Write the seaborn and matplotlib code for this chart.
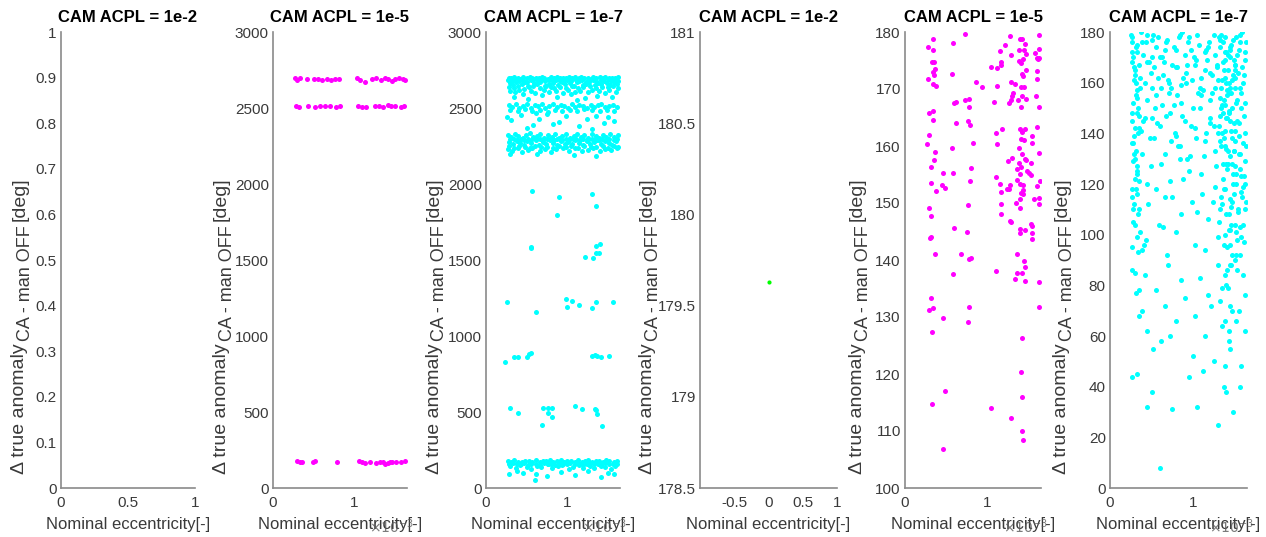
import matplotlib
matplotlib.use("Agg")
import matplotlib.pyplot as plt
import seaborn as sns

# ---------------- DATA ----------------
titles = ["CAM ACPL = 1e-2", "CAM ACPL = 1e-5", "CAM ACPL = 1e-7",
          "CAM ACPL = 1e-2", "CAM ACPL = 1e-5", "CAM ACPL = 1e-7"]
xlabel = "Nominal eccentricity[-]"
ylabel_main = "\u0394 true anomaly"
ylabel_sub = "CA - man OFF"
ylabel_unit = "[deg]"

# Panel 2 (1e-5, full range) -- x in units of 1e-3
p2_x = [0.27, 0.30, 0.33, 0.42, 0.50, 0.55, 0.60, 0.66, 0.71, 0.76, 0.81, 1.03, 1.07, 1.13, 1.22, 1.27, 1.33, 1.38, 1.42, 1.46, 1.50, 1.55, 1.60, 1.63,
        0.28, 0.32, 0.43, 0.52, 0.58, 0.64, 0.70, 0.78, 0.82, 1.05, 1.10, 1.15, 1.25, 1.30, 1.36, 1.41, 1.45, 1.50, 1.57, 1.61,
        0.29, 0.33, 0.36, 0.49, 0.52, 0.79, 1.06, 1.10, 1.13, 1.20, 1.27, 1.32, 1.36, 1.38, 1.41, 1.44, 1.47, 1.52, 1.57, 1.62]
p2_y = [2695, 2685, 2700, 2690, 2688, 2694, 2682, 2690, 2686, 2692, 2688, 2698, 2682, 2670, 2690, 2696, 2684, 2700, 2692, 2678, 2690, 2696, 2688, 2684,
        2515, 2508, 2512, 2506, 2516, 2510, 2514, 2508, 2512, 2516, 2508, 2504, 2514, 2512, 2506, 2518, 2510, 2514, 2508, 2512,
        175, 168, 172, 170, 176, 168, 175, 170, 166, 168, 162, 172, 170, 160, 165, 174, 168, 172, 170, 176]

# Panel 3 (1e-7, full range)
p3_x = [0.28, 0.31, 0.35, 0.39, 0.42, 0.46, 0.50, 0.54, 0.57, 0.61, 0.65, 0.69, 0.72, 0.76, 0.80, 0.84, 0.87, 0.91, 0.95, 0.99, 1.02, 1.06, 1.10, 1.14, 1.17, 1.21, 1.25, 1.29, 1.32, 1.36, 1.40, 1.44, 1.47, 1.51, 1.55, 1.59, 1.62,
        0.27, 0.32, 0.36, 0.41, 0.45, 0.50, 0.55, 0.59, 0.64, 0.68, 0.73, 0.77, 0.82, 0.86, 0.91, 0.96, 1.00, 1.05, 1.09, 1.14, 1.18, 1.23, 1.27, 1.32, 1.36, 1.41, 1.45, 1.50, 1.54, 1.59, 1.63,
        0.29, 0.33, 0.37, 0.44, 0.48, 0.52, 0.59, 0.63, 0.67, 0.74, 0.78, 0.82, 0.89, 0.93, 0.97, 1.04, 1.08, 1.12, 1.19, 1.23, 1.27, 1.34, 1.38, 1.42, 1.49, 1.53, 1.57, 1.61,
        0.28, 0.34, 0.40, 0.47, 0.53, 0.58, 0.66, 0.73, 0.80, 0.84, 0.91, 0.99, 1.06, 1.13, 1.20, 1.28, 1.35, 1.43, 1.50, 1.56, 1.62,
        0.30, 0.36, 0.41, 0.55, 0.60, 0.71, 0.77, 0.86, 0.95, 1.01, 1.09, 1.16, 1.25, 1.31, 1.39, 1.46, 1.52, 1.60,
        0.34, 0.52, 0.69, 0.88, 1.05, 1.22, 1.37, 1.55, 0.45, 1.12,
        0.28, 0.32, 0.37, 0.41, 0.46, 0.50, 0.55, 0.60, 0.64, 0.69, 0.73, 0.78, 0.83, 0.87, 0.92, 0.96, 1.01, 1.06, 1.10, 1.15, 1.19, 1.24, 1.29, 1.33, 1.38, 1.42, 1.47, 1.52, 1.56, 1.61,
        0.30, 0.39, 0.48, 0.57, 0.66, 0.76, 0.85, 0.94, 1.03, 1.12, 1.21, 1.31, 1.40, 1.49, 1.58,
        0.26, 0.31, 0.43, 0.58, 0.65, 0.75, 0.90, 0.98, 1.14, 1.24, 1.35, 1.45, 1.58, 0.50, 0.83, 1.30, 1.50, 0.62,
        0.27, 0.31, 0.36, 0.40, 0.45, 0.49, 0.54, 0.58, 0.63, 0.67, 0.72, 0.76, 0.81, 0.85, 0.90, 0.94, 0.99, 1.03, 1.08, 1.12, 1.17, 1.21, 1.26, 1.30, 1.35, 1.39, 1.44, 1.48, 1.53, 1.57, 1.62,
        0.29, 0.34, 0.38, 0.43, 0.47, 0.52, 0.56, 0.61, 0.66, 0.70, 0.75, 0.79, 0.84, 0.88, 0.93, 0.98, 1.02, 1.07, 1.11, 1.16, 1.20, 1.25, 1.30, 1.34, 1.39, 1.43, 1.48, 1.52, 1.57, 1.61,
        0.28, 0.33, 0.38, 0.42, 0.47, 0.51, 0.56, 0.61, 0.65, 0.70, 0.74, 0.79, 0.83, 0.88, 0.92, 0.97, 1.01, 1.06, 1.10, 1.15, 1.19, 1.24, 1.28, 1.33, 1.37, 1.42, 1.46, 1.51, 1.55, 1.60,
        0.28, 0.35, 0.41, 0.48, 0.54, 0.60, 0.68, 0.75, 0.82, 0.90, 0.99, 1.05, 1.13, 1.21, 1.29, 1.36, 1.44, 1.50, 1.58, 1.63,
        0.27, 0.32, 0.39, 0.44, 0.52, 0.57, 0.66, 0.73, 0.80, 0.86, 0.95, 1.02, 1.09, 1.18, 1.25, 1.32, 1.40, 1.47, 1.54, 1.61,
        0.30, 0.63, 1.08, 1.36,
        0.57, 0.90, 0.87, 1.30, 1.35, 0.55, 0.56, 1.35, 1.40, 1.35, 1.39, 1.22, 1.32,
        0.26, 0.61, 0.98, 1.00, 1.06, 1.14, 1.30, 1.35, 1.56,
        0.24, 0.35, 0.39, 0.51, 0.53, 0.56, 1.30, 1.34, 1.37, 1.42, 1.52,
        0.30, 0.39, 0.70, 0.76, 0.81, 0.76, 0.81, 0.69, 1.09, 1.18, 1.34, 1.35, 1.37, 1.43,
        0.27, 0.31, 0.35, 0.40, 0.44, 0.48, 0.53, 0.57, 0.61, 0.66, 0.70, 0.74, 0.79, 0.83, 0.87, 0.92, 0.96, 1.00, 1.05, 1.09, 1.13, 1.18, 1.22, 1.26, 1.31, 1.35, 1.39, 1.44, 1.48, 1.52, 1.57, 1.61,
        0.28, 0.33, 0.38, 0.43, 0.47, 0.52, 0.56, 0.61, 0.66, 0.71, 0.76, 0.80, 0.85, 0.90, 0.95, 1.00, 1.04, 1.09, 1.14, 1.19, 1.24, 1.28, 1.33, 1.38, 1.42, 1.47, 1.52, 1.56, 1.61,
        0.29, 0.37, 0.42, 0.50, 0.55, 0.63, 0.68, 0.76, 0.81, 0.89, 0.94, 1.02, 1.07, 1.15, 1.20, 1.28, 1.33, 1.41, 1.46, 1.54, 1.59,
        0.28, 0.45, 0.60, 0.62, 0.75, 0.92, 1.10, 1.25, 1.42, 1.58, 0.38, 1.50]
p3_y = [2700, 2696, 2703, 2699, 2694, 2701, 2698, 2702, 2695, 2700, 2697, 2703, 2699, 2694, 2701, 2698, 2703, 2696, 2700, 2697, 2702, 2695, 2701, 2699, 2703, 2696, 2700, 2694, 2702, 2698, 2701, 2697, 2703, 2695, 2700, 2698, 2702,
        2682, 2676, 2688, 2679, 2685, 2674, 2683, 2689, 2677, 2684, 2680, 2687, 2675, 2683, 2678, 2686, 2681, 2676, 2688, 2679, 2684, 2674, 2687, 2681, 2677, 2685, 2679, 2688, 2675, 2683, 2680,
        2665, 2650, 2672, 2658, 2668, 2645, 2662, 2655, 2670, 2648, 2660, 2666, 2652, 2671, 2657, 2663, 2646, 2669, 2654, 2661, 2673, 2649, 2664, 2656, 2667, 2651, 2670, 2659,
        2640, 2632, 2645, 2628, 2638, 2642, 2630, 2644, 2636, 2629, 2641, 2634, 2646, 2631, 2639, 2643, 2633, 2640, 2637, 2645, 2630,
        2615, 2605, 2620, 2610, 2598, 2617, 2606, 2612, 2600, 2621, 2608, 2614, 2602, 2618, 2609, 2597, 2616, 2604,
        2575, 2560, 2585, 2570, 2590, 2565, 2580, 2572, 2590, 2555,
        2520, 2505, 2525, 2498, 2515, 2528, 2502, 2518, 2510, 2524, 2500, 2516, 2527, 2506, 2519, 2512, 2503, 2526, 2508, 2521, 2514, 2499, 2523, 2509, 2517, 2528, 2504, 2513, 2522, 2507,
        2488, 2478, 2492, 2483, 2486, 2476, 2490, 2481, 2487, 2479, 2493, 2484, 2477, 2489, 2482,
        2440, 2420, 2455, 2390, 2430, 2460, 2410, 2445, 2380, 2425, 2450, 2400, 2415, 2370, 2395, 2365, 2440, 2465,
        2325, 2310, 2330, 2315, 2300, 2322, 2335, 2308, 2318, 2328, 2302, 2320, 2312, 2332, 2305, 2318, 2326, 2300, 2315, 2330, 2310, 2322, 2304, 2328, 2316, 2300, 2324, 2312, 2330, 2306, 2320,
        2295, 2298, 2290, 2296, 2292, 2299, 2288, 2294, 2297, 2291, 2293, 2298, 2289, 2295, 2292, 2297, 2290, 2296, 2293, 2288, 2299, 2291, 2294, 2297, 2290, 2296, 2292, 2298, 2289, 2294,
        2275, 2260, 2285, 2268, 2255, 2280, 2270, 2290, 2258, 2276, 2264, 2288, 2272, 2256, 2282, 2266, 2278, 2262, 2290, 2270, 2258, 2284, 2266, 2274, 2288, 2260, 2280, 2268, 2256, 2282,
        2248, 2240, 2252, 2244, 2236, 2250, 2242, 2246, 2238, 2251, 2243, 2247, 2239, 2249, 2241, 2245, 2253, 2237, 2250, 2244,
        2230, 2215, 2235, 2210, 2225, 2240, 2218, 2232, 2212, 2228, 2238, 2220, 2234, 2214, 2226, 2240, 2216, 2230, 2222, 2236,
        2195, 2200, 2190, 2185,
        1957, 1913, 1798, 1935, 1854, 1587, 1580, 1593, 1604, 1543, 1543, 1522, 1515,
        1224, 1157, 1246, 1189, 1233, 1202, 1183, 1224, 1224,
        826, 859, 865, 859, 880, 887, 870, 872, 869, 862, 866,
        528, 496, 526, 526, 526, 493, 467, 413, 537, 517, 522, 511, 485, 407,
        178, 170, 182, 174, 168, 180, 176, 172, 184, 169, 178, 175, 181, 171, 177, 183, 170, 176, 179, 173, 181, 168, 177, 182, 172, 179, 175, 170, 183, 176, 171, 180,
        158, 162, 155, 160, 164, 152, 159, 161, 154, 163, 157, 160, 153, 162, 156, 159, 164, 155, 161, 152, 158, 163, 156, 160, 154, 162, 157, 159, 161,
        145, 132, 150, 138, 128, 148, 136, 155, 130, 142, 150, 126, 140, 152, 134, 146, 130, 148, 138, 125, 142,
        95, 100, 52, 90, 80, 105, 85, 110, 70, 95, 115, 100]

# Panel 4 (1e-2, zoomed)
p4_x = [0.0]
p4_y = [179.63]

# Panel 5 (1e-5, zoomed)
p5_x = [0.73, 0.34, 0.28, 0.58, 0.34, 0.33, 0.35, 0.36, 0.34, 0.35, 0.28, 0.34, 0.38, 0.57,
        1.27, 1.39, 1.42, 1.46, 1.21, 1.15, 1.38, 1.44, 1.63, 1.62, 1.58, 1.60, 1.63, 1.61, 1.29, 1.47,
        1.38, 1.41, 1.43, 1.16, 1.16, 1.04, 1.12, 1.47, 1.42, 1.43, 1.60, 1.60, 0.86, 0.93, 1.12, 1.29,
        1.34, 1.41, 1.44, 1.31, 1.30, 1.28, 1.26, 1.37, 1.42, 1.47, 1.59, 1.63, 1.41, 1.08,
        0.60, 0.62, 0.73, 0.78, 0.78, 0.29, 0.34, 0.34, 0.62, 0.77, 0.79, 0.29, 0.27, 0.36, 0.57, 0.82,
        1.10, 1.18, 1.12, 1.40, 1.42, 1.46, 1.41, 1.44, 1.54, 1.54, 1.60,
        1.38, 1.42, 1.47, 1.45, 1.53, 1.62, 1.25, 1.30, 1.38, 1.41, 1.36, 1.48, 1.51, 1.53, 1.40, 1.36,
        0.35, 0.32, 0.46, 0.58, 0.80, 0.79, 0.32, 0.38, 0.45, 0.48,
        1.10, 1.15, 1.17, 1.24, 1.27, 1.26, 1.39, 1.43, 1.43, 1.41, 1.39, 1.43, 1.57, 1.62, 1.63, 1.64, 1.60,
        1.35, 1.40, 1.16, 1.17, 0.29, 0.32, 0.77, 1.27, 1.28,
        1.39, 1.40, 1.46, 1.53, 1.54, 1.54, 1.54, 0.60, 0.75, 0.31, 0.30,
        0.36, 0.68, 0.78, 0.80, 1.36, 1.44, 1.46, 1.11, 0.58, 1.34, 1.36, 1.42, 1.45, 1.62,
        0.31, 0.29, 0.34, 0.78, 0.77, 0.46, 1.63, 0.33, 1.42, 1.41, 0.48, 0.33, 1.42, 1.04, 1.28, 1.42, 1.43, 0.46]
p5_y = [179.7, 178.7, 177.3, 178.0, 176.8, 174.7, 174.8, 173.5, 172.9, 172.5, 171.8, 170.9, 170.5, 172.6,
        179.3, 178.8, 178.7, 177.9, 177.7, 176.7, 176.8, 176.9, 179.5, 177.1, 176.4, 175.5, 175.5, 175.2, 175.9, 176.2,
        175.0, 174.6, 175.2, 174.7, 174.2, 173.9, 173.6, 173.4, 172.7, 172.2, 173.2, 171.8, 171.2, 170.4, 170.6, 171.3,
        170.9, 170.4, 170.3, 169.3, 168.7, 168.1, 167.5, 168.0, 168.8, 168.2, 168.7, 166.8, 166.9, 167.7,
        167.5, 167.8, 168.1, 168.3, 166.9, 165.8, 166.2, 164.6, 164.0, 164.3, 163.6, 161.9, 160.4, 159.0, 159.6, 160.5,
        162.2, 162.9, 160.4, 162.9, 162.5, 162.9, 161.2, 161.1, 161.8, 160.5, 163.4,
        159.6, 158.6, 157.5, 157.7, 157.0, 158.7, 157.3, 157.9, 157.0, 156.3, 155.9, 155.7, 155.3, 155.0, 155.1, 154.1,
        157.5, 156.4, 155.3, 155.3, 156.1, 153.9, 153.5, 152.1, 153.1, 152.7,
        154.5, 153.4, 152.0, 152.5, 153.1, 152.4, 153.3, 153.2, 152.3, 151.8, 150.7, 151.5, 150.7, 150.9, 149.9, 153.8, 153.0,
        150.0, 149.1, 149.8, 148.0, 149.1, 147.7, 149.7, 146.8, 146.6,
        145.4, 144.7, 145.3, 146.3, 145.9, 144.7, 143.7, 145.6, 144.9, 144.0, 143.9,
        141.0, 141.1, 140.2, 140.4, 141.1, 139.9, 138.8, 138.1, 137.5, 136.6, 137.7, 137.7, 136.3, 136.1,
        133.3, 131.2, 131.5, 131.8, 129.2, 129.9, 131.8, 127.4, 126.4, 120.4, 117.0, 114.8, 115.9, 114.0, 112.3, 110.0, 108.4, 106.8]

# Panel 6 (1e-7, zoomed)
p6_x = [0.27, 0.30, 0.33, 0.38, 0.42, 0.47, 0.52, 0.55, 0.60, 0.64, 0.69, 0.73, 0.77, 0.81, 0.86, 0.90, 0.95, 0.99, 1.03, 1.07, 1.12, 1.16, 1.21, 1.25, 1.29, 1.33, 1.36, 1.39, 1.42, 1.45, 1.48, 1.51, 1.55, 1.58, 1.62,
        0.28, 0.32, 0.36, 0.44, 0.50, 0.58, 0.66, 0.71, 0.79, 0.84, 0.92, 1.01, 1.09, 1.18, 1.23, 1.31, 1.35, 1.38, 1.41, 1.44, 1.47, 1.50, 1.53, 1.57, 1.60, 1.63,
        0.40, 0.45, 0.49, 0.56, 0.62, 0.67, 0.75, 0.83, 0.88, 0.97, 1.05, 1.14, 1.19, 1.27, 1.56, 1.61, 0.36, 0.53, 0.71, 0.93, 1.10, 1.26, 0.45, 0.63, 0.81, 1.00, 1.20, 1.58, 0.37, 0.87,
        0.31, 0.35, 0.43, 0.51, 0.58, 0.65, 0.70, 0.79, 0.85, 0.94, 1.02, 1.08, 1.15, 1.23, 1.30, 1.34, 1.37, 1.40, 1.43, 1.46, 1.49, 1.52, 1.54, 1.59, 1.64,
        0.26, 0.28, 0.30, 0.32, 0.34, 0.27, 0.29, 0.31, 0.33, 0.35, 0.26, 0.28, 0.30, 0.32, 0.34, 0.27, 0.29, 0.31, 0.33, 0.35, 0.28, 0.30, 0.32, 0.27, 0.29,
        1.33, 1.36, 1.39, 1.42, 1.45, 1.48, 1.51, 1.34, 1.37, 1.40, 1.43, 1.46, 1.49, 1.52, 1.35, 1.38, 1.41, 1.44, 1.47, 1.50, 1.36, 1.39, 1.42, 1.45, 1.48, 1.40, 1.43, 1.46, 1.41, 1.44, 1.38, 1.47, 1.42, 1.45, 1.39, 1.43, 1.50, 1.53, 1.56, 1.36,
        1.31, 1.34, 1.37, 1.40, 1.43, 1.46, 1.49, 1.52, 1.55, 1.58, 1.61, 1.64, 1.33, 1.39, 1.45, 1.51, 1.57, 1.62, 1.35, 1.41, 1.47, 1.53, 1.60,
        1.29, 1.32, 1.35, 1.38, 1.41, 1.44, 1.47, 1.50, 1.53, 1.56, 1.59, 1.62, 1.30, 1.33, 1.36, 1.39, 1.42, 1.45, 1.48, 1.51, 1.54, 1.57, 1.60, 1.63, 1.31, 1.34, 1.37, 1.40, 1.43, 1.46, 1.49, 1.52, 1.55, 1.58, 1.61, 1.64,
        0.25, 0.27, 0.29, 0.31, 0.33, 0.35, 0.37, 0.26, 0.28, 0.30, 0.32, 0.34, 0.36, 0.38, 0.27, 0.31, 0.35,
        0.42, 0.48, 0.54, 0.60, 0.66, 0.72, 0.78, 0.84, 0.90, 0.96, 1.02, 1.08, 1.14, 1.20, 1.26, 0.51, 0.63, 0.77, 0.91, 1.06, 1.17,
        0.26, 0.29, 0.31, 0.34, 0.28, 0.33, 0.40, 0.46, 0.53, 0.61, 0.68, 0.75, 0.82, 0.88, 0.97, 1.05, 1.13, 1.20, 1.27, 1.32, 1.35, 1.38, 1.41, 1.43, 1.46, 1.49, 1.52, 1.55, 1.59, 1.62,
        0.27, 0.30, 0.35, 0.43, 0.49, 0.57, 0.64, 0.72, 0.79, 0.86, 0.93, 1.02, 1.10, 1.16, 1.24, 1.30, 1.34, 1.37, 1.40, 1.44, 1.47, 1.50, 1.54, 1.58, 1.61,
        0.38, 0.44, 0.51, 0.59, 0.66, 0.73, 0.80, 0.87, 0.95, 1.03, 1.11, 1.18, 1.25, 1.56, 1.60, 0.41, 0.55, 0.69, 0.84, 0.99, 1.14, 1.28, 1.52, 1.63,
        0.30, 0.38, 0.45, 0.55, 0.62, 0.70, 0.80, 0.90, 1.00, 1.08, 1.15, 1.22, 1.30, 1.35, 1.40, 1.45, 1.50, 1.55, 1.60, 1.63, 0.33, 0.50, 0.75, 1.12, 1.37, 1.43, 1.52, 1.58,
        0.35, 0.42, 0.52, 0.66, 0.72, 0.85, 0.95, 1.02, 1.18, 1.25, 1.33, 1.38, 1.47, 1.53, 1.57, 1.62,
        0.60, 0.45, 1.30, 1.48, 1.05, 1.40, 0.27]
p6_y = [178, 165, 172, 176, 160, 168, 179, 155, 170, 163, 177, 158, 174, 166, 152, 171, 178, 161, 169, 175, 157, 173, 164, 179, 167, 154, 176, 162, 171, 158, 177, 165, 173, 156, 169,
        152, 175, 158, 168, 177, 162, 173, 156, 166, 179, 160, 170, 155, 174, 163, 178, 151, 169, 157, 174, 161, 167, 153, 176, 160, 172,
        171, 179, 164, 174, 158, 176, 167, 178, 162, 173, 179, 165, 176, 171, 179, 163, 162, 166, 160, 167, 162, 158, 153, 151, 155, 150, 153, 150, 180, 180,
        174, 167, 176, 170, 178, 168, 161, 173, 159, 176, 167, 158, 172, 156, 161, 179, 165, 172, 160, 175, 169, 178, 164, 180, 176,
        176, 170, 163, 157, 150, 145, 139, 133, 127, 121, 115, 110, 104, 99, 93, 168, 161, 155, 148, 142, 136, 130, 124, 118, 112,
        174, 168, 172, 165, 170, 163, 167, 158, 153, 160, 149, 156, 144, 152, 140, 135, 146, 131, 138, 127, 122, 118, 128, 114, 120, 108, 102, 111, 95, 88, 84, 92, 79, 72, 66, 62, 158, 145, 132, 148,
        143, 150, 138, 128, 156, 141, 133, 124, 139, 117, 147, 135, 110, 100, 96, 104, 92, 120, 79, 86, 113, 98, 104,
        166, 177, 161, 178, 155, 173, 150, 162, 171, 158, 166, 152, 140, 147, 128, 151, 133, 145, 124, 137, 110, 126, 119, 140, 105, 115, 96, 134, 108, 88, 116, 101, 132, 99, 123, 113,
        179, 172, 166, 160, 154, 147, 141, 136, 129, 122, 116, 108, 101, 94, 86, 77, 68,
        146, 138, 150, 143, 132, 148, 140, 135, 145, 131, 142, 150, 137, 144, 133, 158, 170, 151, 164, 156, 169,
        148, 132, 118, 140, 105, 125, 145, 112, 138, 128, 147, 115, 135, 122, 143, 109, 131, 146, 119, 137, 112, 141, 126, 148, 104, 133, 120, 144, 115, 129,
        95, 142, 110, 98, 127, 144, 103, 121, 139, 108, 130, 96, 124, 140, 113, 99, 135, 118, 146, 102, 128, 141, 109, 123, 97,
        132, 120, 146, 104, 115, 137, 101, 147, 125, 138, 116, 106, 143, 103, 136, 96, 118, 92, 130, 113, 94, 127, 92, 110,
        85, 70, 62, 78, 58, 88, 66, 75, 52, 83, 60, 72, 88, 64, 80, 55, 90, 70, 84, 62, 45, 38, 31, 46, 40, 58, 66, 48,
        78, 84, 55, 72, 60, 82, 44, 68, 76, 50, 74, 48, 70, 86, 40, 76,
        8, 32, 25, 30, 32, 38, 44]

# ---------------- STYLE ----------------
sns.set_style("white")
plt.rcParams["font.family"] = ["Liberation Sans", "DejaVu Sans"]

AX_COL = "#8a8a8a"
TXT_COL = "#3a3a3a"
MAG = "#ff00ff"
CYA = "#00ffff"
GRN = "#00ff00"

W, H = 1266, 537
fig = plt.figure(figsize=(W / 100, H / 100), dpi=100)
renderer = fig.canvas.get_renderer()

lefts = [61, 273, 486, 700, 905, 1110]
widths = [134, 134, 134, 137, 136, 137]
top_px, bot_px = 32, 488

axes = []
for l, w in zip(lefts, widths):
    ax = fig.add_axes([l / W, (H - bot_px) / H, w / W, (bot_px - top_px) / H])
    axes.append(ax)

series = [None, (p2_x, p2_y, MAG), (p3_x, p3_y, CYA), (p4_x, p4_y, GRN), (p5_x, p5_y, MAG), (p6_x, p6_y, CYA)]
xlims = [(0, 1), (0, 1.65), (0, 1.65), (-1, 1), (0, 1.65), (0, 1.65)]
xticks = [[0, 0.5, 1], [0, 1], [0, 1], [-0.5, 0, 0.5, 1], [0, 1], [0, 1]]
xticklabels = [["0", "0.5", "1"], ["0", "1"], ["0", "1"], ["-0.5", "0", "0.5", "1"], ["0", "1"], ["0", "1"]]
ylims = [(0, 1), (0, 3000), (0, 3000), (178.5, 181), (100, 180), (0, 180)]
yticks = [[0, 0.1, 0.2, 0.3, 0.4, 0.5, 0.6, 0.7, 0.8, 0.9, 1],
          [0, 500, 1000, 1500, 2000, 2500, 3000],
          [0, 500, 1000, 1500, 2000, 2500, 3000],
          [178.5, 179, 179.5, 180, 180.5, 181],
          [100, 110, 120, 130, 140, 150, 160, 170, 180],
          [0, 20, 40, 60, 80, 100, 120, 140, 160, 180]]
yticklabels = [["0", "0.1", "0.2", "0.3", "0.4", "0.5", "0.6", "0.7", "0.8", "0.9", "1"],
               ["0", "500", "1000", "1500", "2000", "2500", "3000"],
               ["0", "500", "1000", "1500", "2000", "2500", "3000"],
               ["178.5", "179", "179.5", "180", "180.5", "181"],
               ["100", "110", "120", "130", "140", "150", "160", "170", "180"],
               ["0", "20", "40", "60", "80", "100", "120", "140", "160", "180"]]
has_exp = [False, True, True, False, True, True]
ylab_xc = [20, 221, 434, 647, 857, 1062]   # pixel centre of y label
ylab_bot = 474                              # pixel (from top) where label starts


def draw_ylabel(xc, ybot_top):
    yb = H - ybot_top
    t1 = fig.text(xc / W, yb / H, ylabel_main, rotation=90, ha="center", va="bottom",
                  fontsize=14, color=TXT_COL)
    b1 = t1.get_window_extent(renderer)
    t2 = fig.text((xc + 6) / W, (b1.y1 + 2) / H, ylabel_sub, rotation=90, ha="center",
                  va="bottom", fontsize=13, color=TXT_COL)
    b2 = t2.get_window_extent(renderer)
    fig.text(xc / W, (b2.y1 + 5) / H, ylabel_unit, rotation=90, ha="center", va="bottom",
             fontsize=14, color=TXT_COL)


for i, ax in enumerate(axes):
    s = series[i]
    if s is not None:
        sz = 9 if i == 3 else 13
        sns.scatterplot(x=s[0], y=s[1], ax=ax, color=s[2], s=sz, linewidth=0, legend=False, zorder=3)
    ax.set_xlim(*xlims[i])
    ax.set_ylim(*ylims[i])
    ax.set_xticks(xticks[i])
    ax.set_xticklabels(xticklabels[i])
    ax.set_yticks(yticks[i])
    ax.set_yticklabels(yticklabels[i])
    for sp in ["top", "right"]:
        ax.spines[sp].set_visible(False)
    for sp in ["left", "bottom"]:
        ax.spines[sp].set_color(AX_COL)
        ax.spines[sp].set_linewidth(1.2)
    ax.tick_params(axis="both", direction="in", length=4, width=1, color=AX_COL,
                   labelcolor=TXT_COL, labelsize=11)
    ax.tick_params(axis="x", pad=6)
    ax.tick_params(axis="y", pad=3)
    ax.set_title(titles[i], fontsize=12, fontweight="bold", color="black", pad=7)
    ax.set_xlabel(xlabel, fontsize=12, color=TXT_COL, labelpad=5)
    ax.set_ylabel("")
    draw_ylabel(ylab_xc[i], ylab_bot)
    if has_exp[i]:
        ax.text(0.72, -0.085, r"$\times10^{-3}$", transform=ax.transAxes, fontsize=10,
                color="#5a5a5a", ha="left", va="center", alpha=0.8)

fig.savefig("out.png", dpi=100)
